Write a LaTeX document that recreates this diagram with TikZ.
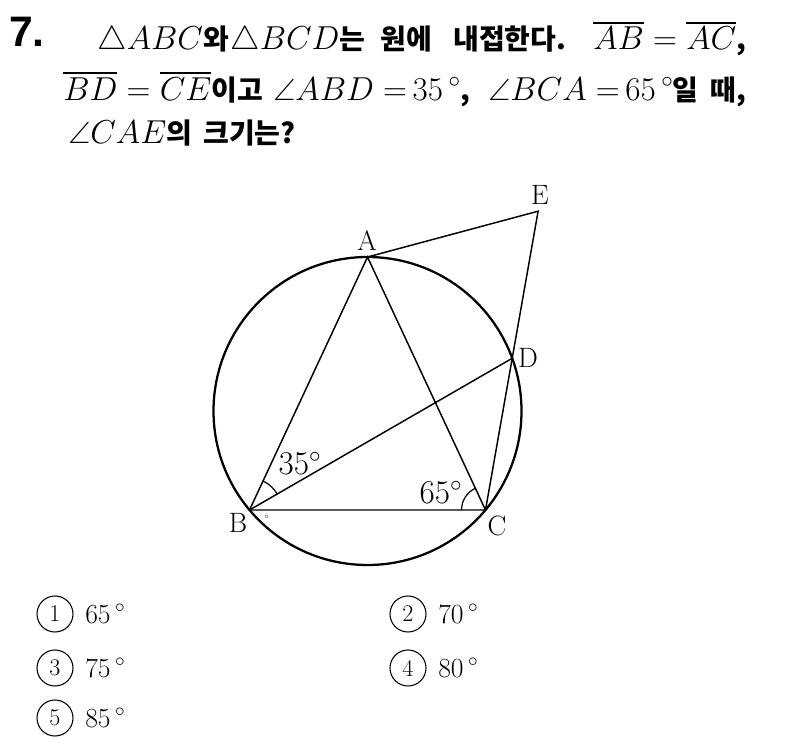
\documentclass[tikz,border=0pt]{standalone}
\usepackage{amsmath}
\usepackage{amssymb}
\usepackage{fontspec}
\newfontfamily\kr{Noto Sans CJK KR}
\newfontfamily\numfont{Liberation Sans}
\newcommand\ko[1]{{\fontsize{21}{25}\selectfont\kr\bfseries #1}}
\usepackage{tikz}

\begin{document}
\begin{tikzpicture}[x=0.75pt, y=-0.75pt,
  txt/.style={anchor=base west, inner sep=0pt, font=\fontsize{23}{27}\selectfont},
  lbl/.style={inner sep=0pt, font=\fontsize{21}{24}\selectfont},
  opt/.style={anchor=base west, inner sep=0pt, font=\fontsize{22}{26}\selectfont},
  optnum/.style={circle, draw, line width=0.8pt, minimum size=27, inner sep=0pt, font=\fontsize{18}{20}\selectfont}]
\useasboundingbox (0, 0) rectangle (795, 749);

% question
\node[anchor=base west, inner sep=0pt, font=\fontsize{32}{36}\selectfont\numfont\bfseries] (num) at (9, 46) {7.};
\node[txt] (q1a) at (97, 50) {$\triangle ABC$\ko{와}};
\node[txt] (q1b) at (230, 50) {$\triangle BCD$\ko{는}};
\node[txt] (q1c) at (380, 50) {\ko{원에}};
\node[txt] (q1d) at (453, 50) {\ko{내접한다.}};
\node[txt] (q1e) at (593, 50) {$\overline{AB}=\overline{AC}$\ko{,}};
\node[txt] (q2a) at (63, 100) {$\overline{BD}\mkern5mu{=}\mkern5mu\overline{CE}$\ko{이고}};
\node[txt] (q2b) at (273, 100) {$\angle ABD\;{=}\,35\,^{\circ}$\ko{,}};
\node[txt] (q2c) at (488, 100) {$\angle BCA\;{=}\,65\,^{\circ}$};
\node[txt] (q2d) at (672, 100) {\ko{일~~때,}};
\node[txt] (q3a) at (68, 143) {$\angle CAE$\ko{의}};
\node[txt] (q3b) at (203, 143) {\ko{크기는?}};

% figure
\coordinate (O) at (367.5, 411);
\coordinate (A) at (367.5, 257);
\coordinate (B) at (249.5, 510);
\coordinate (C) at (485.5, 510);
\coordinate (D) at (512.2, 358.3);
\coordinate (E) at (538.1, 211.2);

\draw[line width=1.7pt] (O) circle (154);
\draw[line width=1.1pt] (A) -- (B) -- (C) -- cycle;
\draw[line width=1.1pt] (B) -- (D);
\draw[line width=1.1pt] (C) -- (E) -- (A);
\draw[line width=0.9pt] ([shift={(-30:32)}]B) arc (-30:-65:32);
\draw[line width=0.9pt] ([shift={(-115:24)}]C) arc (-115:-180:24);

\node[lbl] (labA) at (367, 241) {A};
\node[lbl] (labB) at (238, 523) {B};
\node[lbl] (labC) at (497, 526) {C};
\node[lbl] (labD) at (528, 358) {D};
\node[lbl] (labE) at (540, 195) {E};
\node[lbl, font=\fontsize{23}{26}\selectfont] (ang35) at (300, 463) {$35^\circ$};
\node[lbl, font=\fontsize{23}{26}\selectfont] (ang65) at (441, 492) {$65^\circ$};
\node[inner sep=0pt, font=\tiny] (mark) at (267, 518) {$^\circ$};

% choices
\node[optnum] (c1) at (55, 614) {1};
\node[opt] (v1) at (85, 623) {$65\,^{\circ}$};
\node[optnum] (c2) at (408, 614) {2};
\node[opt] (v2) at (438, 623) {$70\,^{\circ}$};
\node[optnum] (c3) at (55, 668) {3};
\node[opt] (v3) at (85, 677) {$75\,^{\circ}$};
\node[optnum] (c4) at (408, 668) {4};
\node[opt] (v4) at (438, 677) {$80\,^{\circ}$};
\node[optnum] (c5) at (55, 718) {5};
\node[opt] (v5) at (85, 727) {$85\,^{\circ}$};
\end{tikzpicture}
\end{document}
